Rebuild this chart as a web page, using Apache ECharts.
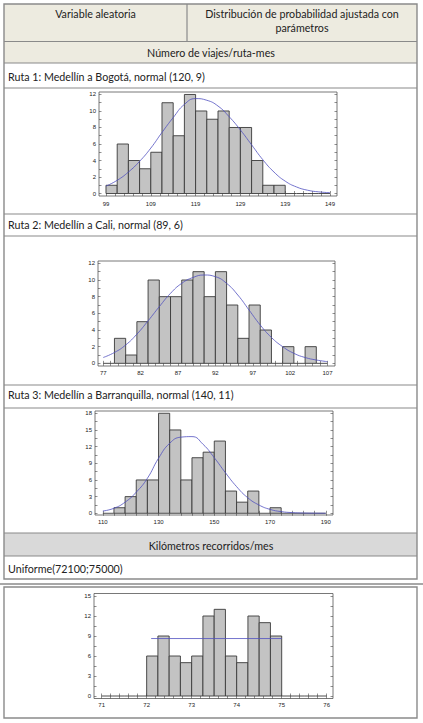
<!DOCTYPE html>
<html><head><meta charset="utf-8">
<script src="https://cdn.jsdelivr.net/npm/echarts@6/dist/echarts.min.js"></script>
<style>html,body{margin:0;padding:0;background:#fff;}#c{width:423px;height:723px;}</style>
</head><body><div id="c"></div>
<script>
// ---------- Data ----------
// Ruta 1: Medellín a Bogotá
const route1BinStart = 99, route1BinWidth = 2.5;
const route1Counts = [1,6,4,3,5,11,7,12,10,9,10,8,8,4,1,1,0,0,0,0];
const route1CurveX = [99,101.5,104,106.5,109,111.5,114,116.5,119,121.5,124,126.5,129,131.5,134,136.5,139,141.5,144,146.5,149];
const route1CurveY = [0.9,1.6,2.6,3.9,5.5,7.4,9.2,10.8,11.5,11.3,10.6,9.3,7.7,5.9,4.1,2.6,1.5,0.8,0.4,0.2,0.1];
const route1XLabels = [99,109,119,129,139,149];
const route1YLabels = [0,2,4,6,8,10,12];

// Ruta 2: Medellín a Cali
const route2BinStart = 77, route2BinWidth = 1.5;
const route2Counts = [0,3,1,5,10,8,8,10,11,8,11,7,3,7,4,0,2,0,2,0];
const route2CurveX = [77,78.5,80,81.5,83,84.5,86,87.5,89,90.5,92,93.5,95,96.5,98,99.5,101,102.5,104,105.5,107];
const route2CurveY = [0.7,1.3,2.2,3.5,5.1,6.8,8.4,9.6,10.3,10.6,10.4,9.6,8.2,6.4,4.6,3.1,2.0,1.2,0.7,0.4,0.2];
const route2XLabels = [77,82,87,92,97,102,107];
const route2YLabels = [0,2,4,6,8,10,12];

// Ruta 3: Medellín a Barranquilla
const route3BinStart = 110, route3BinWidth = 4;
const route3Counts = [0,1,3,6,6,18,15,6,10,11,13,4,2,4,0,1,0,0,0,0];
const route3CurveX = [110,114,118,122,126,130,134,138,142,146,150,154,158,162,166,170,174,178,182,186,190];
const route3CurveY = [0.4,0.9,2.0,3.8,6.3,9.9,12.6,13.7,13.8,12.4,10.0,7.3,4.8,2.8,1.5,0.7,0.3,0.12,0.05,0.02,0.01];
const route3XLabels = [110,130,150,170,190];
const route3YLabels = [0,3,6,9,12,15,18];

// Kilómetros recorridos/mes (miles)
const kmBinStart = 71, kmBinWidth = 0.25;
const kmCounts = [0,0,0,0,6,9,6,5,6,12,13,6,5,12,11,9,0,0,0,0];
const kmLineX = [72.1,75.0];
const kmLineY = [8.62,8.62];
const kmXLabels = [71,72,73,74,75,76];
const kmYLabels = [0,3,6,9,12,15];

// ---------- Helpers ----------
function bins(start, width, counts){
  return counts.map((c,i)=>[start+i*width, start+(i+1)*width, c]);
}
function pairs(xs, ys){ return xs.map((x,i)=>[x, ys[i]]); }
function subdivide(vals, n){
  const out=[];
  for(let i=0;i<vals.length-1;i++){
    const a=vals[i], b=vals[i+1];
    for(let k=0;k<n;k++) out.push(a+(b-a)*k/n);
  }
  out.push(vals[vals.length-1]);
  return out;
}
function renderBar(params, api){
  const x0=api.value(0), x1=api.value(1), h=api.value(2);
  const p0=api.coord([x0,0]), p1=api.coord([x1,h]);
  if(h===0){
    return {type:'line', shape:{x1:p0[0],y1:p0[1],x2:p1[0],y2:p0[1]}, style:{stroke:'#3a3a3a',lineWidth:0.9}};
  }
  return {type:'rect', shape:{x:p0[0], y:p1[1], width:p1[0]-p0[0], height:p0[1]-p1[1]},
          style:{fill:'#c3c3c3', stroke:'#3a3a3a', lineWidth:0.9}};
}

const grids=[], xAxes=[], yAxes=[], series=[];
const tickStyle={color:'#444', width:0.6};
const lblFont={fontSize:6, color:'#222', fontFamily:'Liberation Sans'};

function addChart(g, xmin, xmax, xLabels, ymin, ymax, yLabels, xMargin, barData, lineData){
  const gi=grids.length;
  grids.push({left:g.left, top:g.top, width:g.width, height:g.height, show:true,
    borderColor:'#555', borderWidth:0.8, backgroundColor:'#fff'});
  const xMinor=subdivide(xLabels,5), yMinor=subdivide(yLabels,2);
  const xi=xAxes.length, yi=yAxes.length;
  xAxes.push({gridIndex:gi, type:'value', position:'bottom', min:xmin, max:xmax,
    axisLine:{show:false}, splitLine:{show:false},
    axisTick:{show:true, inside:true, length:2.5, customValues:xMinor, lineStyle:tickStyle},
    axisLabel:Object.assign({show:true, customValues:xLabels, margin:xMargin}, lblFont)});
  xAxes.push({gridIndex:gi, type:'value', position:'top', min:xmin, max:xmax,
    axisLine:{show:false}, splitLine:{show:false}, axisLabel:{show:false},
    axisTick:{show:true, inside:true, length:2.5, customValues:xMinor, lineStyle:tickStyle}});
  yAxes.push({gridIndex:gi, type:'value', position:'left', min:ymin, max:ymax,
    axisLine:{show:false}, splitLine:{show:false},
    axisTick:{show:true, inside:true, length:2.5, customValues:yMinor, lineStyle:tickStyle},
    axisLabel:Object.assign({show:true, customValues:yLabels, margin:3}, lblFont)});
  yAxes.push({gridIndex:gi, type:'value', position:'right', min:ymin, max:ymax,
    axisLine:{show:false}, splitLine:{show:false}, axisLabel:{show:false},
    axisTick:{show:true, inside:true, length:2.5, customValues:yMinor, lineStyle:tickStyle}});
  series.push({type:'custom', xAxisIndex:xi, yAxisIndex:yi, renderItem:renderBar,
    encode:{x:[0,1], y:2}, data:barData, silent:true});
  series.push({type:'line', xAxisIndex:xi, yAxisIndex:yi, data:lineData, smooth:true,
    showSymbol:false, symbol:'none', lineStyle:{color:'#5050c0', width:0.8}, silent:true, z:5});
}

addChart({left:99, top:92, width:238, height:104}, 97.44, 150.56, route1XLabels, -0.3, 12.3, route1YLabels, 5,
  bins(route1BinStart, route1BinWidth, route1Counts), pairs(route1CurveX, route1CurveY));
addChart({left:98, top:261, width:237, height:105}, 76.3, 108.0, route2XLabels, -0.32, 12.28, route2YLabels, 4,
  bins(route2BinStart, route2BinWidth, route2Counts), pairs(route2CurveX, route2CurveY));
addChart({left:95, top:411, width:238, height:104}, 107.2, 192.6, route3XLabels, -0.31, 18.41, route3YLabels, 4,
  bins(route3BinStart, route3BinWidth, route3Counts), pairs(route3CurveX, route3CurveY));
addChart({left:94, top:593.5, width:239, height:105}, 70.83, 76.14, kmXLabels, -0.375, 15.375, kmYLabels, 3,
  bins(kmBinStart, kmBinWidth, kmCounts), pairs(kmLineX, kmLineY));
series[series.length-1].smooth=false;

// ---------- Table (graphic) ----------
const border='#8a8a8a', txt='#222', tf='Lato';
function hline(y, x1, x2, w){ return {type:'line', shape:{x1:x1, y1:y, x2:x2, y2:y}, style:{stroke:border, lineWidth:w||1.2}, z:10}; }
function vline(x, y1, y2){ return {type:'line', shape:{x1:x, y1:y1, x2:x, y2:y2}, style:{stroke:border, lineWidth:1.2}, z:10}; }
function bg(y, h, c){ return {type:'rect', shape:{x:4, y:y, width:413, height:h}, style:{fill:c}, z:-5}; }
function text(s, x, y, align){ return {type:'text', x:x, y:y, style:{text:s, fill:txt, font:'10.7px '+tf, textAlign:align||'left', textVerticalAlign:'middle'}, z:11}; }

const graphics=[
  bg(4, 37.5, '#edebe0'), bg(41.5, 21.5, '#edebe0'), bg(533, 23, '#d9d9d9'),
  {type:'rect', shape:{x:4, y:4, width:413, height:575}, style:{fill:'none', stroke:border, lineWidth:1.4}, z:10},
  hline(41.5,4,417), hline(63,4,417), hline(88,4,417), hline(214,4,417), hline(236,4,417),
  hline(385,4,417), hline(408,4,417), hline(533,4,417), hline(556,4,417),
  vline(187,4,41.5),
  hline(584,0,423,1.6),
  {type:'rect', shape:{x:4, y:587, width:413, height:131}, style:{fill:'none', stroke:border, lineWidth:1.4}, z:10},
  text('Variable aleatoria', 95.5, 13, 'center'),
  text('Distribución de probabilidad ajustada con', 302, 13, 'center'),
  text('parámetros', 302, 27.5, 'center'),
  text('Número de viajes/ruta-mes', 211, 52, 'center'),
  text('Ruta 1: Medellín a Bogotá, normal (120, 9)', 8, 76),
  text('Ruta 2: Medellín a Cali, normal (89, 6)', 8, 224.5),
  text('Ruta 3: Medellín a Barranquilla, normal (140, 11)', 8, 394),
  text('Kilómetros recorridos/mes', 211, 545, 'center'),
  text('Uniforme(72100;75000)', 8, 568)
];

const chart=echarts.init(document.getElementById('c'), null, {renderer:'svg', width:423, height:723});
chart.setOption({
  animation:false,
  backgroundColor:'#fff',
  grid:grids, xAxis:xAxes, yAxis:yAxes, series:series,
  graphic:{elements:graphics}
});
</script></body></html>
